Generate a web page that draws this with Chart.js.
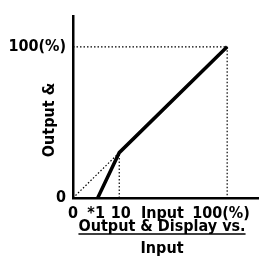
<!DOCTYPE html>
<html>
<head>
<meta charset="utf-8">
<script src="https://cdn.jsdelivr.net/npm/chart.js@4/dist/chart.umd.min.js"></script>
<style>
	body { margin: 0; background: #fff; }
	#wrap { width: 260px; height: 256px; position: relative; }
</style>
</head>
<body>
<div id="wrap"><canvas id="chart"></canvas></div>
<script>
// curve: output vs input (%)
const curveX = [16, 30, 100];
const curveY = [0, 30, 100];
// dotted guide lines
const diagX = [0, 30];
const diagY = [0, 30];
const kneeX = [30, 30];
const kneeY = [0, 30];
const topX = [0, 100];
const topY = [100, 100];
const rightX = [100, 100];
const rightY = [100, 0];

const xTickValues = [0, 15, 31, 58, 96];
const xTickLabels = ['0', '*1', '10', 'Input', '100(%)'];
const yTickValues = [0, 100];
const yTickLabels = ['0', '100(%)'];

const titleLines = ['Output & Display vs.', 'Input'];
const yTitle = 'Output &';

const FONT = 'DejaVu Sans Condensed';

function toPoints(xs, ys) {
	return xs.map((x, i) => ({x: x, y: ys[i]}));
}

function dotted(xs, ys) {
	return {
		data: toPoints(xs, ys),
		borderColor: '#000',
		borderWidth: 1.2,
		borderDash: [1.5, 2],
		pointRadius: 0,
		showLine: true
	};
}

const titlesPlugin = {
	id: 'titles',
	afterDraw: function (chart) {
		const ctx = chart.ctx;
		const area = chart.chartArea;
		ctx.save();
		ctx.fillStyle = '#000';
		ctx.font = 'bold 16px "' + FONT + '"';
		ctx.textAlign = 'center';
		ctx.textBaseline = 'middle';

		const cx = 162;
		ctx.fillText(titleLines[0], cx, area.bottom + 29);
		ctx.fillText(titleLines[1], cx, area.bottom + 51);

		const w = ctx.measureText(titleLines[0]).width;
		ctx.strokeStyle = '#000';
		ctx.lineWidth = 1.5;
		ctx.beginPath();
		ctx.moveTo(cx - w / 2, area.bottom + 36);
		ctx.lineTo(cx + w / 2, area.bottom + 36);
		ctx.stroke();

		ctx.translate(50, 120);
		ctx.rotate(-Math.PI / 2);
		ctx.fillText(yTitle, 0, 0);
		ctx.restore();
	}
};

const ctx = document.getElementById('chart').getContext('2d');
new Chart(ctx, {
	type: 'scatter',
	data: {
		datasets: [
			dotted(diagX, diagY),
			dotted(kneeX, kneeY),
			dotted(topX, topY),
			dotted(rightX, rightY),
			{
				data: toPoints(curveX, curveY),
				borderColor: '#000',
				borderWidth: 3.5,
				pointRadius: 0,
				showLine: true
			}
		]
	},
	options: {
		responsive: true,
		maintainAspectRatio: false,
		animation: false,
		layout: {
			padding: {left: 0, right: 2, top: 14, bottom: 0}
		},
		plugins: {
			legend: {display: false},
			tooltip: {enabled: false}
		},
		scales: {
			x: {
				type: 'linear',
				min: 0,
				max: 120,
				grid: {display: false, drawTicks: false},
				border: {color: '#000', width: 2.5},
				afterBuildTicks: function (scale) {
					scale.ticks = xTickValues.map((v) => ({value: v}));
				},
				afterFit: function (scale) {
					scale.height = 58;
				},
				ticks: {
					autoSkip: false,
					maxRotation: 0,
					padding: 6,
					color: '#000',
					font: {family: FONT, size: 16, weight: 'bold'},
					callback: function (value) {
						return xTickLabels[xTickValues.indexOf(value)];
					}
				}
			},
			y: {
				type: 'linear',
				min: 0,
				max: 120,
				grid: {display: false, drawTicks: false},
				border: {color: '#000', width: 2.5},
				afterBuildTicks: function (scale) {
					scale.ticks = yTickValues.map((v) => ({value: v}));
				},
				afterFit: function (scale) {
					scale.width = 73;
				},
				ticks: {
					autoSkip: false,
					padding: 7,
					color: '#000',
					font: {family: FONT, size: 16, weight: 'bold'},
					callback: function (value) {
						return yTickLabels[yTickValues.indexOf(value)];
					}
				}
			}
		}
	},
	plugins: [titlesPlugin]
});
</script>
</body>
</html>
